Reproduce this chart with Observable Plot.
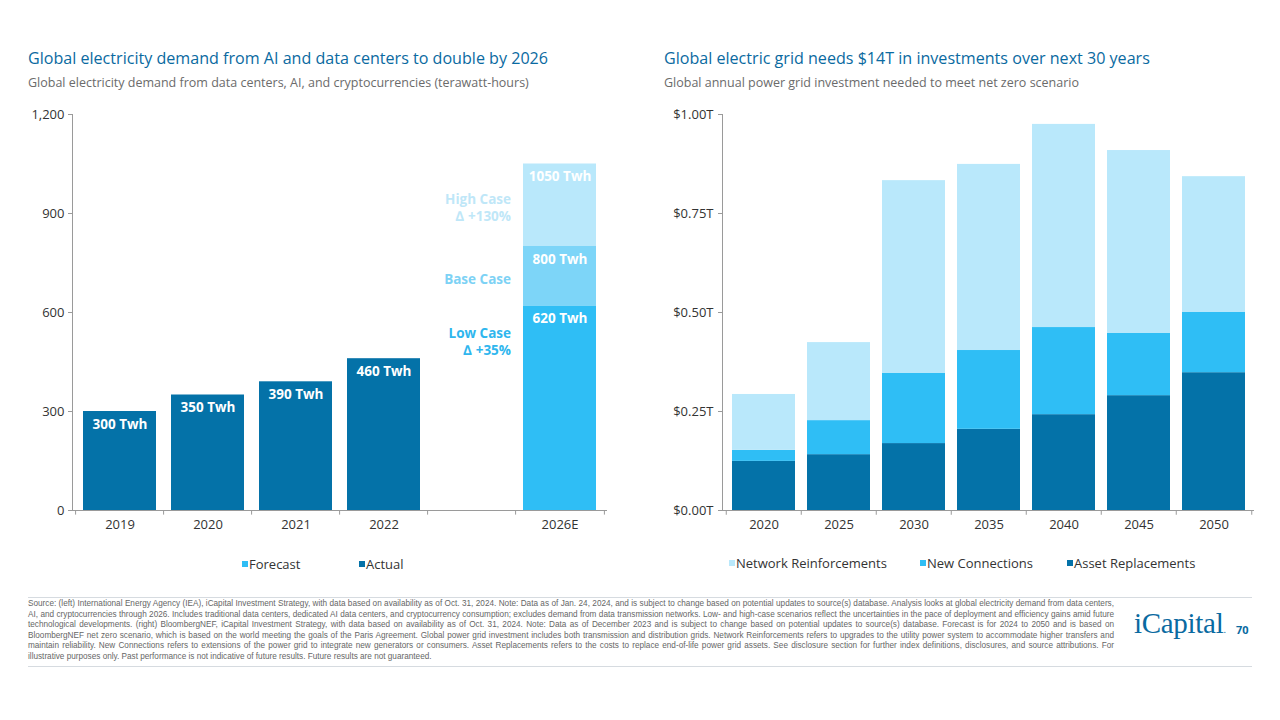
<!DOCTYPE html>
<html>
<head>
<meta charset="utf-8">
<script src="https://cdn.jsdelivr.net/npm/d3@7"></script>
<script src="https://cdn.jsdelivr.net/npm/@observablehq/plot@0.6"></script>
<style>
  html, body { margin: 0; padding: 0; background: #fff; }
  #page { position: relative; width: 1280px; height: 720px; overflow: hidden; font-family: "Open Sans", Lato, sans-serif; }
  .title { position: absolute; font-size: 16.1px; font-weight: 500; color: #0a6aa1; white-space: nowrap; }
  .sub { position: absolute; font-size: 12.5px; color: #6b6b6b; white-space: nowrap; }
  .plot { position: absolute; }
  .legend { position: absolute; font-size: 13px; color: #333; white-space: nowrap; }
  .legend span.sw { display: inline-block; width: 6px; height: 6px; margin-right: 1px; vertical-align: 2px; }
  .rule { position: absolute; left: 28px; width: 1224px; height: 1px; background: #d6dbe0; }
  #foot { position: absolute; left: 28px; top: 599px; width: 1086px; font-family: "Liberation Sans", Arial, sans-serif; font-size: 8.2px; line-height: 10.6px; color: #666; text-align: justify; text-align-last: left; }
  #logo { position: absolute; left: 1134px; top: 607px; font-family: "Liberation Serif", serif; font-size: 29px; color: #0a6aa1; letter-spacing: -0.3px; }
  #pg { position: absolute; left: 1236px; top: 622px; font-size: 11px; font-weight: 700; color: #0a6aa1; }
</style>
</head>
<body>
<div id="page">
  <div class="title" style="left:28px;top:47px;">Global electricity demand from AI and data centers to double by 2026</div>
  <div class="sub" style="left:28px;top:74px;">Global electricity demand from data centers, AI, and cryptocurrencies (terawatt-hours)</div>
  <div class="title" style="left:664px;top:47px;">Global electric grid needs $14T in investments over next 30 years</div>
  <div class="sub" style="left:664px;top:74px;">Global annual power grid investment needed to meet net zero scenario</div>
  <div id="left" class="plot" style="left:0;top:100px;"></div>
  <div id="right" class="plot" style="left:640px;top:100px;"></div>
  <div id="legL"></div>
  <div id="legR"></div>
  <div class="rule" style="top:597px;"></div>
  <div id="foot">Source: (left) International Energy Agency (IEA), iCapital Investment Strategy, with data based on availability as of Oct. 31, 2024. Note: Data as of Jan. 24, 2024, and is subject to change based on potential updates to source(s) database. Analysis looks at global electricity demand from data centers, AI, and cryptocurrencies through 2026. Includes traditional data centers, dedicated AI data centers, and cryptocurrency consumption; excludes demand from data transmission networks. Low- and high-case scenarios reflect the uncertainties in the pace of deployment and efficiency gains amid future technological developments. (right) BloombergNEF, iCapital Investment Strategy, with data based on availability as of Oct. 31, 2024. Note: Data as of December 2023 and is subject to change based on potential updates to source(s) database. Forecast is for 2024 to 2050 and is based on BloombergNEF net zero scenario, which is based on the world meeting the goals of the Paris Agreement. Global power grid investment includes both transmission and distribution grids. Network Reinforcements refers to upgrades to the utility power system to accommodate higher transfers and maintain reliability. New Connections refers to extensions of the power grid to integrate new generators or consumers. Asset Replacements refers to the costs to replace end-of-life power grid assets. See disclosure section for further index definitions, disclosures, and source attributions. For illustrative purposes only. Past performance is not indicative of future results. Future results are not guaranteed.</div>
  <div class="rule" style="top:666px;"></div>
  <div id="logo">iCapital<span style="font-size:10px">.</span></div>
  <div id="pg">70</div>
</div>
<script>
// ---------- Left chart data ----------
const leftCategories = ["2019", "2020", "2021", "2022", "gap", "2026E"];
const actualYears = ["2019", "2020", "2021", "2022"];
const actualValues = [300, 350, 390, 460];
const forecastYear = "2026E";
const forecastCaseNames = ["Low Case", "Base Case", "High Case"];
const forecastCaseValues = [620, 800, 1050];
const forecastCaseNotes = ["Low Case\n∆ +35%", "Base Case", "High Case\n∆ +130%"];
const forecastNoteY = [514, 703, 920];
const leftTicks = [0, 300, 600, 900, 1200];
const leftLegend = ["Forecast", "Actual"];

// ---------- Right chart data ----------
const gridYears = ["2020", "2025", "2030", "2035", "2040", "2045", "2050"];
const assetReplacements = [0.124, 0.141, 0.169, 0.205, 0.242, 0.290, 0.348];
const newConnections =    [0.028, 0.086, 0.177, 0.199, 0.220, 0.157, 0.152];
const networkReinforce =  [0.141, 0.197, 0.487, 0.470, 0.513, 0.462, 0.343];
const gridSeries = ["Asset Replacements", "New Connections", "Network Reinforcements"];
const rightTicks = [0, 0.25, 0.5, 0.75, 1.0];
const rightLegend = ["Network Reinforcements", "New Connections", "Asset Replacements"];

// ---------- Colours ----------
const DARK = "#0472a8", MID = "#2fbef5", BASE = "#7dd5f8", LIGHT = "#b9e8fb";
const caseColors = [MID, BASE, LIGHT];
const caseTextColors = ["#2fb6ee", "#7dd2f5", "#bfe7f8"];
const AXIS = "#9a9a9a", TXT = "#333";
const FONT = "'Open Sans', Lato, sans-serif";

// ---------- Left chart ----------
const actualData = actualYears.map((c, i) => ({cat: c, value: actualValues[i]}));
const caseData = forecastCaseValues.map((v, i) => ({
  cat: forecastYear, y1: i === 0 ? 0 : forecastCaseValues[i - 1], y2: v,
  fill: caseColors[i], note: forecastCaseNotes[i], noteY: forecastNoteY[i], tcol: caseTextColors[i], name: forecastCaseNames[i]
}));

const left = Plot.plot({
  width: 620, height: 440,
  marginLeft: 72, marginRight: 13, marginTop: 14, marginBottom: 30,
  style: {fontFamily: FONT, fontSize: "12.5px", color: TXT, background: "transparent", overflow: "visible"},
  x: {domain: leftCategories, paddingInner: 0.17, paddingOuter: 0.1, label: null},
  y: {domain: [0, 1200], label: null},
  marks: [
    Plot.barY(actualData, {x: "cat", y: "value", fill: DARK}),
    Plot.barY(caseData, {x: "cat", y1: "y1", y2: "y2", fill: "fill"}),
    Plot.text(actualData, {x: "cat", y: "value", text: d => d.value + " Twh", dy: 13, fill: "#fff", fontWeight: 700, fontSize: 13.5}),
    Plot.text(caseData, {x: "cat", y: "y2", text: d => d.y2 + " Twh", dy: 13, fill: "#fff", fontWeight: 700, fontSize: 13.5}),
    Plot.text(caseData, {x: "cat", y: "noteY", text: "note", fill: "tcol",
      textAnchor: "end", dx: -49, fontWeight: 700, fontSize: 13.5, lineHeight: 1.25}),
    Plot.ruleX(leftCategories, {x: d => d, dx: -44.4, y1: 0, y2: -14, stroke: AXIS}),
    Plot.ruleX(leftCategories.slice(-1), {x: d => d, dx: 44.4, y1: 0, y2: -14, stroke: AXIS}),
    Plot.ruleY([0], {stroke: AXIS}),
    Plot.axisY({ticks: leftTicks, tickFormat: d3.format(","), tickSize: 4, tickPadding: 4, stroke: AXIS, fill: TXT, fontSize: 13}),
    Plot.frame({anchor: "left", stroke: AXIS}),
    Plot.axisX({tickSize: 0, tickPadding: 9, tickFormat: d => d === "gap" ? "" : d, fill: TXT, fontSize: 13})
  ]
});
document.getElementById("left").appendChild(left);

// ---------- Right chart ----------
const gridData = [];
gridYears.forEach((yr, i) => {
  gridData.push({year: yr, series: gridSeries[0], value: assetReplacements[i]});
  gridData.push({year: yr, series: gridSeries[1], value: newConnections[i]});
  gridData.push({year: yr, series: gridSeries[2], value: networkReinforce[i]});
});

const right = Plot.plot({
  width: 640, height: 440,
  marginLeft: 82, marginRight: 26, marginTop: 14, marginBottom: 30,
  style: {fontFamily: FONT, fontSize: "12.5px", color: TXT, background: "transparent", overflow: "visible"},
  x: {domain: gridYears, paddingInner: 0.166, paddingOuter: 0.106, label: null},
  y: {domain: [0, 1], label: null},
  color: {domain: gridSeries, range: [DARK, MID, LIGHT]},
  marks: [
    Plot.barY(gridData, {x: "year", y: "value", fill: "series", order: gridSeries}),
    Plot.ruleX(gridYears, {x: d => d, dx: -37.75, y1: 0, y2: -0.012, stroke: AXIS}),
    Plot.ruleX(gridYears.slice(-1), {x: d => d, dx: 37.75, y1: 0, y2: -0.012, stroke: AXIS}),
    Plot.ruleY([0], {stroke: AXIS}),
    Plot.axisY({ticks: rightTicks, tickFormat: d => "$" + d.toFixed(2) + "T", tickSize: 4, tickPadding: 5, stroke: AXIS, fill: TXT, fontSize: 13}),
    Plot.frame({anchor: "left", stroke: AXIS}),
    Plot.axisX({tickSize: 0, tickPadding: 9, fill: TXT, fontSize: 13})
  ]
});
document.getElementById("right").appendChild(right);

// ---------- Legends ----------
function legend(id, items, colors, lefts, top) {
  const host = document.getElementById(id);
  items.forEach((t, i) => {
    const d = document.createElement("div");
    d.className = "legend";
    d.style.left = lefts[i] + "px";
    d.style.top = top + "px";
    d.innerHTML = `<span class="sw" style="background:${colors[i]}"></span>${t}`;
    host.appendChild(d);
  });
}
legend("legL", leftLegend, [MID, DARK], [242, 359], 555);
legend("legR", rightLegend, [LIGHT, MID, DARK], [729, 920, 1067], 554);
</script>
</body>
</html>
